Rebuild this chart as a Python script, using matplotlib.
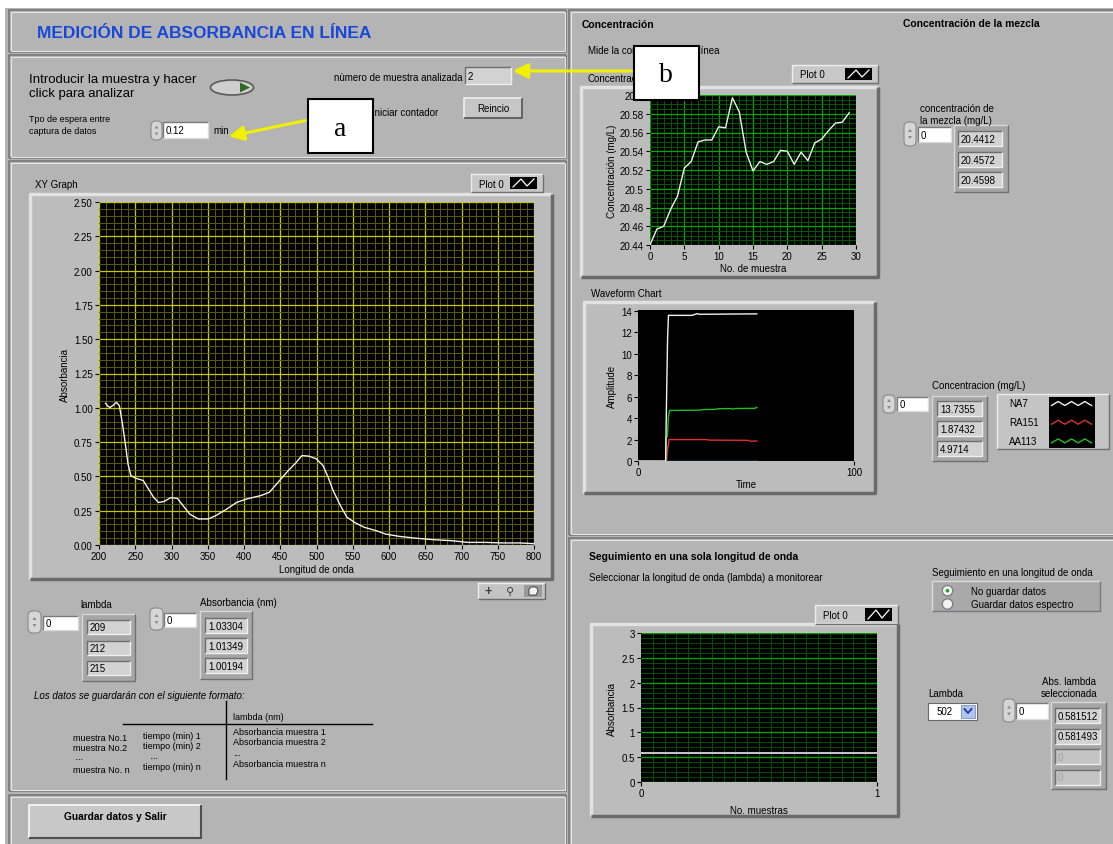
import numpy as np
import matplotlib.pyplot as plt
from matplotlib.patches import Rectangle, Ellipse, Circle, Polygon, FancyBboxPatch
from matplotlib.ticker import MultipleLocator, FormatStrFormatter, FixedLocator

plt.rcParams['font.family'] = ['Liberation Sans', 'DejaVu Sans']

# ---- data ----
# XY Graph: absorbance spectrum
wavelength = [209, 212, 215, 220, 224, 228, 232, 236, 240, 244, 251, 261, 268, 275,
              282, 289, 299, 308, 316, 325, 337, 351, 361, 375, 390, 404, 423, 435,
              447, 461, 471, 480, 490, 500, 509, 516, 523, 533, 542, 554, 566, 585,
              595, 614, 638, 661, 685, 709, 732, 756, 780, 800]
absorbance = [1.033, 1.013, 1.002, 1.02, 1.04, 1.017, 0.895, 0.75, 0.59, 0.506, 0.486, 0.47, 0.41, 0.35,
              0.31, 0.316, 0.345, 0.34, 0.287, 0.226, 0.19, 0.19, 0.214, 0.258, 0.311, 0.336, 0.36, 0.384,
              0.457, 0.542, 0.596, 0.652, 0.647, 0.627, 0.579, 0.494, 0.396, 0.287, 0.202, 0.16, 0.129, 0.1,
              0.08, 0.063, 0.049, 0.039, 0.032, 0.019, 0.019, 0.015, 0.015, 0.01]

# Concentracion vs No. de muestra
muestra = list(range(30))
concentracion = [20.440, 20.457, 20.460, 20.478, 20.492, 20.522, 20.529, 20.550, 20.552, 20.552,
                 20.566, 20.565, 20.597, 20.582, 20.539, 20.519, 20.529, 20.526, 20.529, 20.541,
                 20.540, 20.526, 20.539, 20.530, 20.549, 20.553, 20.562, 20.570, 20.571, 20.581]

# Waveform Chart (Amplitude vs Time)
t_na7 = [0, 12.8, 13.0, 13.3, 13.7, 14.1, 25.0, 26.5, 27.5, 28.5, 55]
na7 = [0, 0, 3.0, 6.8, 11.5, 13.6, 13.6, 13.7, 13.76, 13.7, 13.74]
t_aa113 = [12.8, 13.0, 13.6, 14.0, 14.6, 29.0, 30.0, 36.0, 37.0, 43.0, 44.0, 45.0, 54.0, 55.0]
aa113 = [0, 2.2, 2.3, 4.0, 4.72, 4.75, 4.8, 4.82, 4.88, 4.9, 4.84, 4.9, 4.92, 5.0]
t_ra151 = [13.2, 13.6, 14.4, 32.0, 33.0, 51.0, 52.0, 55.0]
ra151 = [0, 1.0, 2.0, 2.0, 1.95, 1.93, 1.85, 1.87]
t_base = [13.5, 55]
base = [0, 0]

# Seguimiento en una sola longitud de onda
n_muestras = [0, 1]
abs_lambda = [0.5815, 0.5815]

# indicator values
lambda_vals = ['209', '212', '215']
abs_vals = ['1.03304', '1.01349', '1.00194']
mezcla_vals = ['20.4412', '20.4572', '20.4598']
conc_vals = ['13.7355', '1.87432', '4.9714']
sel_vals = ['0.581512', '0.581493', '0', '0']
legend_names = ['NA7', 'RA151', 'AA113']
legend_colors = ['#f0f0f0', '#e03030', '#20c020']

W, H = 1113, 845
GRAY = '#b4b4b4'
fig = plt.figure(figsize=(W / 100, H / 100), dpi=100)
fig.patch.set_facecolor('white')

bg = fig.add_axes([0, 0, 1, 1])
bg.set_xlim(0, W)
bg.set_ylim(H, 0)
bg.axis('off')


def px_axes(x, y, w, h, z=1):
    return fig.add_axes([x / W, 1 - (y + h) / H, w / W, h / H], zorder=z)


def bevel(ax, x, y, w, h, light='#ececec', dark='#6c6c6c', lw=1.2, z=3):
    ax.plot([x, x, x + w], [y + h, y, y], color=light, lw=lw, zorder=z, solid_capstyle='butt')
    ax.plot([x, x + w, x + w], [y + h, y + h, y], color=dark, lw=lw, zorder=z, solid_capstyle='butt')


def panel(x, y, w, h):
    bg.add_patch(Rectangle((x, y), w, h, fc=GRAY, ec='none', zorder=1))
    bevel(bg, x, y, w, h, light='#7c7c7c', dark='#7c7c7c', lw=1.3)
    bevel(bg, x + 1.5, y + 1.5, w - 3, h - 3, light='#e6e6e6', dark='#e6e6e6', lw=0.8)


def txt(x, y, s, size=7, ax=bg, **kw):
    kw.setdefault('va', 'center')
    ax.text(x, y, s, fontsize=size, zorder=6, **kw)


def indicator(x, y, w, h, s, color='black', fc='#d2d2d2'):
    r = Rectangle((x, y), w, h, fc=fc, ec='none', zorder=4)
    bg.add_patch(r)
    bevel(bg, x, y, w, h, light='#6e6e6e', dark='#efefef', lw=1.0, z=5)
    t = bg.text(x + 3, y + h / 2 + 0.5, s, fontsize=7, va='center', color=color, zorder=6)
    t.set_clip_path(r)


def control(x, y, w, h, s):
    bg.add_patch(Rectangle((x, y), w, h, fc='white', ec='none', zorder=4))
    bevel(bg, x, y, w, h, light='#7a7a7a', dark='#dcdcdc', lw=1.0, z=5)
    txt(x + 3, y + h / 2 + 0.5, s)


def spinner(x, y, w, h):
    bg.add_patch(FancyBboxPatch((x, y), w, h, boxstyle='round,pad=0,rounding_size=5',
                                fc='#d6d6d6', ec='#8a8a8a', lw=0.8, zorder=4))
    cx = x + w / 2
    bg.add_patch(Polygon([[cx - 2, y + h / 2 - 2], [cx + 2, y + h / 2 - 2], [cx, y + h / 2 - 5]],
                         fc='#8a8a8a', ec='none', zorder=5))
    bg.add_patch(Polygon([[cx - 2, y + h / 2 + 2], [cx + 2, y + h / 2 + 2], [cx, y + h / 2 + 5]],
                         fc='#8a8a8a', ec='none', zorder=5))


def array_frame(x, y, w, h):
    bg.add_patch(Rectangle((x, y), w, h, fc='#a6a6a6', ec='none', zorder=3))
    bevel(bg, x, y, w, h, light='#d8d8d8', dark='#707070', lw=1.0, z=4)


def graph_frame(x, y, w, h):
    bg.add_patch(Rectangle((x, y), w, h, fc='#bcbcbc', ec='none', zorder=2))
    bevel(bg, x, y, w, h, light='#e2e2e2', dark='#6a6a6a', lw=2.5)


def zigzag(x, y, w, h, color, peaks):
    n = 2 * peaks + 1
    xs = np.linspace(x + 3, x + w - 3, n)
    ys = [y + h - 3 if i % 2 == 0 else y + 3 for i in range(n)]
    bg.plot(xs, ys, color=color, lw=1.0, zorder=6)


def plot_legend(x, y, w, h, label='Plot 0'):
    bg.add_patch(Rectangle((x, y), w, h, fc='#c8c8c8', ec='none', zorder=3))
    bevel(bg, x, y, w, h, light='#eeeeee', dark='#707070', lw=1.0, z=4)
    txt(x + 8, y + h / 2 + 0.5, label)
    sx, sw = x + w - 33, 27
    bg.add_patch(Rectangle((sx, y + 3), sw, h - 6, fc='black', ec='none', zorder=5))
    xs = [sx + 3, sx + 11, sx + 17, sx + 24]
    ys = [y + h - 5, y + 5, y + h - 6, y + 5]
    bg.plot(xs, ys, color='white', lw=0.9, zorder=6)


# ---- panels ----
bg.add_patch(Rectangle((5, 9), W - 5, H - 9, fc=GRAY, ec='none', zorder=0))
panel(9, 11, 557, 42)
panel(9, 56, 557, 103)
panel(9, 162, 557, 630)
panel(9, 796, 557, 52)
panel(569, 11, 546, 525)
panel(569, 539, 546, 310)

# ---- left top ----
txt(37, 33, 'MEDICIÓN DE ABSORBANCIA EN LÍNEA', size=12.5, color='#1848d8', weight='bold')
txt(29, 80, 'Introducir la muestra y hacer', size=9.5)
txt(29, 94, 'click para analizar', size=9.5)
bg.add_patch(Ellipse((232, 88.5), 43, 15, fc='#cfcfcf', ec='#5a5a5a', lw=1.2, zorder=4))
bg.add_patch(Polygon([[240, 83.5], [240, 93.5], [250, 88.5]], fc='#2d6a1e', ec='none', zorder=5))
txt(29, 120, 'Tpo de espera entre', size=6.5)
txt(29, 131.5, 'captura de datos', size=6.5)
spinner(151, 122, 11, 19)
control(163, 123, 45, 16, '0.12')
txt(213, 131, 'min')
txt(462, 78, 'nùmero de muestra analizada', ha='right')
indicator(465, 68, 46, 17, '2')
txt(438, 112.5, 'Iniciar contador', ha='right')
bg.add_patch(Rectangle((464, 99), 58, 20, fc='#c6c6c6', ec='none', zorder=4))
bevel(bg, 464, 99, 58, 20, light='#f0f0f0', dark='#555555', lw=1.2, z=5)
txt(493, 109.5, 'Reincio', ha='center')

# ---- XY graph ----
txt(35, 185, 'XY Graph')
plot_legend(471, 175, 72, 18)
graph_frame(30, 195, 522, 385)
ax1 = px_axes(99, 203, 435, 343)
ax1.set_facecolor('black')
ax1.plot(wavelength, absorbance, color='#f2f2f2', lw=1.0)
ax1.set_xlim(200, 800)
ax1.set_ylim(0, 2.5)
ax1.xaxis.set_major_locator(MultipleLocator(50))
ax1.xaxis.set_minor_locator(MultipleLocator(10))
ax1.yaxis.set_major_locator(MultipleLocator(0.25))
ax1.yaxis.set_minor_locator(MultipleLocator(0.05))
ax1.yaxis.set_major_formatter(FormatStrFormatter('%.2f'))
ax1.grid(which='minor', color='#5c5c00', lw=0.7)
ax1.grid(which='major', color='#c8c800', lw=0.9)
ax1.set_xlabel('Longitud de onda', fontsize=7, labelpad=2)
ax1.set_ylabel('Absorbancia', fontsize=7, labelpad=3)

# tool palette (cursor, zoom, pan icons)
bg.add_patch(Rectangle((478, 584), 67, 16, fc='#c4c4c4', ec='none', zorder=4))
bevel(bg, 478, 584, 67, 16, light='#eeeeee', dark='#6a6a6a', lw=1.0, z=5)
txt(488, 592, '+', size=9, ha='center', weight='bold', color='#404040')
txt(510, 592, '⚲', size=8, ha='center', color='#404040')
bg.add_patch(Rectangle((524, 586), 18, 12, fc='#9a9a9a', ec='none', zorder=5))
bg.add_patch(Polygon([[529, 596], [529, 590], [531, 588], [533, 588], [535, 588], [537, 589],
                      [538, 592], [536, 596]], fc='#f4f4f4', ec='#303030', lw=0.6, zorder=6))

# lambda / absorbancia arrays
txt(96, 605, 'lambda', ha='center')
spinner(28, 612, 13, 22)
control(43, 617, 35, 14, '0')
array_frame(82, 615, 53, 67)
for i, v in enumerate(lambda_vals):
    indicator(87, 621 + i * 20.5, 43, 14, v)

txt(238, 603.5, 'Absorbancia (nm)', ha='center')
spinner(150, 609, 13, 22)
control(164, 614, 32, 14, '0')
array_frame(200, 612, 52, 68)
for i, v in enumerate(abs_vals):
    indicator(205, 619 + i * 20, 42, 15, v)

txt(34, 696.5, 'Los datos se guardarán con el siguiente formato:', style='italic')
bg.plot([226, 226], [702, 780], color='black', lw=1.0, zorder=5)
bg.plot([123, 372], [724.5, 724.5], color='black', lw=1.0, zorder=5)
txt(233, 717.5, 'lambda (nm)', size=6.5)
for s, yy in zip(['muestra No.1', 'muestra No.2', ' ...', 'muestra No. n'], [738.5, 748.5, 758, 771]):
    txt(73, yy, s, size=6.5)
for s, yy in zip(['tiempo (min) 1', 'tiempo (min) 2', '   ...', 'tiempo (min) n'], [736.5, 746.5, 757, 767.5]):
    txt(143, yy, s, size=6.5)
for s, yy in zip(['Absorbancia muestra 1', 'Absorbancia muestra 2', '...', 'Absorbancia muestra n'],
                 [732.5, 743, 754, 765]):
    txt(233, yy, s, size=6.5)

bg.add_patch(Rectangle((29, 806), 172, 33, fc='#c8c8c8', ec='none', zorder=4))
bevel(bg, 29, 806, 172, 33, light='#f0f0f0', dark='#505050', lw=1.5, z=5)
txt(115, 817, 'Guardar datos y Salir', ha='center', weight='bold', size=7.3)

# ---- right top: concentracion ----
txt(582, 25, 'Concentración', size=7.5, weight='bold')
txt(903, 24, 'Concentración de la mezcla', size=7.5, weight='bold')
txt(588, 51, 'Mide la concentración en línea')
txt(588, 79, 'Concentración')
plot_legend(792, 66, 86, 18)
graph_frame(581, 88, 297, 190)
ax2 = px_axes(650, 96, 206, 150)
ax2.set_facecolor('black')
ax2.plot(muestra, concentracion, color='#f0f0f0', lw=1.0)
ax2.set_xlim(0, 30)
ax2.set_ylim(20.44, 20.60)
ax2.xaxis.set_major_locator(MultipleLocator(5))
ax2.xaxis.set_minor_locator(MultipleLocator(1))
ax2.yaxis.set_major_locator(MultipleLocator(0.02))
ax2.yaxis.set_minor_locator(MultipleLocator(0.005))
ax2.yaxis.set_major_formatter(FormatStrFormatter('%g'))
ax2.grid(which='minor', color='#005a00', lw=0.7)
ax2.grid(which='major', color='#00a800', lw=0.9)
ax2.set_xlabel('No. de muestra', fontsize=7, labelpad=1)
ax2.set_ylabel('Concentración (mg/L)', fontsize=7, labelpad=2)

txt(920, 109.5, 'concentración de')
txt(920, 121, 'la mezcla (mg/L)')
spinner(904, 123, 12, 24)
control(918, 128, 33, 15, '0')
array_frame(954, 126, 54, 67)
for i, v in enumerate(mezcla_vals):
    indicator(958, 132 + i * 20.7, 44, 15, v)

# ---- waveform chart ----
txt(591, 294.5, 'Waveform Chart')
graph_frame(584, 303, 291, 191)
ax3 = px_axes(638, 311, 216, 151)
ax3.set_facecolor('black')
ax3.plot(t_base, base, color='#40a8ff', lw=1.0)
ax3.plot(t_ra151, ra151, color=legend_colors[1], lw=1.0)
ax3.plot(t_aa113, aa113, color=legend_colors[2], lw=1.0)
ax3.plot(t_na7, na7, color=legend_colors[0], lw=1.0)
ax3.set_xlim(0, 100)
ax3.set_ylim(0, 14.1)
ax3.xaxis.set_major_locator(FixedLocator([0, 100]))
ax3.yaxis.set_major_locator(MultipleLocator(2))
ax3.set_xlabel('Time', fontsize=7, labelpad=1)
ax3.set_ylabel('Amplitude', fontsize=7, labelpad=3)

txt(932, 386, 'Concentracion (mg/L)')
spinner(883, 396, 12, 18)
control(897, 397.5, 31, 14, '0')
array_frame(932, 397, 55, 65)
for i, v in enumerate(conc_vals):
    indicator(937, 402 + i * 20, 45, 14.5, v)

bg.add_patch(Rectangle((997, 395), 112, 55, fc='#c4c4c4', ec='none', zorder=3))
bevel(bg, 997, 395, 112, 55, light='#eeeeee', dark='#707070', lw=1.0, z=4)
bg.add_patch(Rectangle((1048.5, 398), 46, 51, fc='black', ec='none', zorder=5))
for i, (nm, c) in enumerate(zip(legend_names, legend_colors)):
    yy = 404.5 + i * 18.7
    txt(1009, yy, nm)
    zigzag(1048.5, yy - 5, 46, 10, c, 3)

# ---- right bottom ----
txt(589, 557, 'Seguimiento en una sola longitud de onda', size=7.5, weight='bold')
txt(589, 578.5, 'Seleccionar la longitud de onda (lambda) a monitorear')
txt(932, 573.5, 'Seguimiento en una longitud de onda')
bg.add_patch(Rectangle((932, 582), 168, 30, fc='#a9a9a9', ec='none', zorder=3))
bevel(bg, 932, 582, 168, 30, light='#dcdcdc', dark='#7a7a7a', lw=1.0, z=4)
for yy, s, sel in [(591.7, 'No guardar datos', True), (605, 'Guardar datos espectro', False)]:
    bg.add_patch(Circle((947.5, yy), 5.2, fc='#f2f2f2', ec='#7a7a8a', lw=0.9, zorder=5))
    if sel:
        bg.add_patch(Circle((947.5, yy), 1.8, fc='#20a020', ec='none', zorder=6))
    txt(971, yy, s)

plot_legend(815, 606, 83, 19)
graph_frame(591, 625, 307, 192)
ax4 = px_axes(641, 634, 236, 149)
ax4.set_facecolor('black')
ax4.plot(n_muestras, abs_lambda, color='#c8c8c8', lw=1.4)
ax4.set_xlim(0, 1)
ax4.set_ylim(0, 3)
ax4.xaxis.set_major_locator(FixedLocator([0, 1]))
ax4.xaxis.set_minor_locator(MultipleLocator(0.05))
ax4.yaxis.set_major_locator(MultipleLocator(0.5))
ax4.yaxis.set_minor_locator(MultipleLocator(0.1))
ax4.yaxis.set_major_formatter(FormatStrFormatter('%g'))
ax4.grid(which='minor', color='#005000', lw=0.7)
ax4.grid(which='major', axis='y', color='#00a000', lw=1.0)
ax4.set_xlabel('No. muestras', fontsize=7, labelpad=5)
ax4.set_ylabel('Absorbancia', fontsize=7, labelpad=3)

txt(928, 694.5, 'Lambda')
bg.add_patch(Rectangle((928, 703.5), 49, 17.5, fc='white', ec='#6a6a6a', lw=0.8, zorder=4))
txt(937, 712, '502')
bg.add_patch(Rectangle((961, 705.5), 14, 13.5, fc='#b0c4f0', ec='#7890c8', lw=0.6, zorder=5))
bg.plot([964.5, 968, 971.5], [710, 714, 710], color='#1c3c90', lw=1.3, zorder=6)

txt(1069, 682, 'Abs. lambda', ha='center')
txt(1069, 694, 'seleccionada', ha='center')
spinner(1003, 700, 12, 23)
control(1016, 704, 32, 16, '0')
array_frame(1051, 703, 55, 87)
for i, v in enumerate(sel_vals):
    indicator(1055, 709 + i * 20.5, 45, 15, v,
              color='black' if i < 2 else '#a0a0a0',
              fc='#d2d2d2' if i < 2 else '#c4c4c4')

# common tick styling for the graphs
for ax in (ax1, ax2, ax3, ax4):
    for sp in ax.spines.values():
        sp.set_visible(False)
    ax.tick_params(which='major', length=3, width=0.8, labelsize=7, pad=1.5, color='black')
    ax.tick_params(which='minor', length=0)
    ax.set_axisbelow(True)

# ---- annotations a / b on top ----
top = fig.add_axes([0, 0, 1, 1], zorder=10)
top.set_xlim(0, W)
top.set_ylim(H, 0)
top.axis('off')
top.patch.set_alpha(0)
top.annotate('', xy=(226, 138), xytext=(308, 121),
             arrowprops=dict(arrowstyle='-|>,head_length=0.9,head_width=0.45', color='#f0f000', lw=2.2))
top.annotate('', xy=(510, 72), xytext=(640, 72),
             arrowprops=dict(arrowstyle='-|>,head_length=0.9,head_width=0.45', color='#f0f000', lw=2.2))
for (x0, y0, s) in [(308, 100, 'a'), (634, 47, 'b')]:
    top.add_patch(Rectangle((x0, y0), 64.5, 53.5, fc='white', ec='black', lw=1.5, zorder=5))
    top.text(x0 + 32, y0 + 29, s, fontsize=20, family='Liberation Serif',
             ha='center', va='center', zorder=6)

fig.savefig('out.png', dpi=100, facecolor=fig.get_facecolor())
